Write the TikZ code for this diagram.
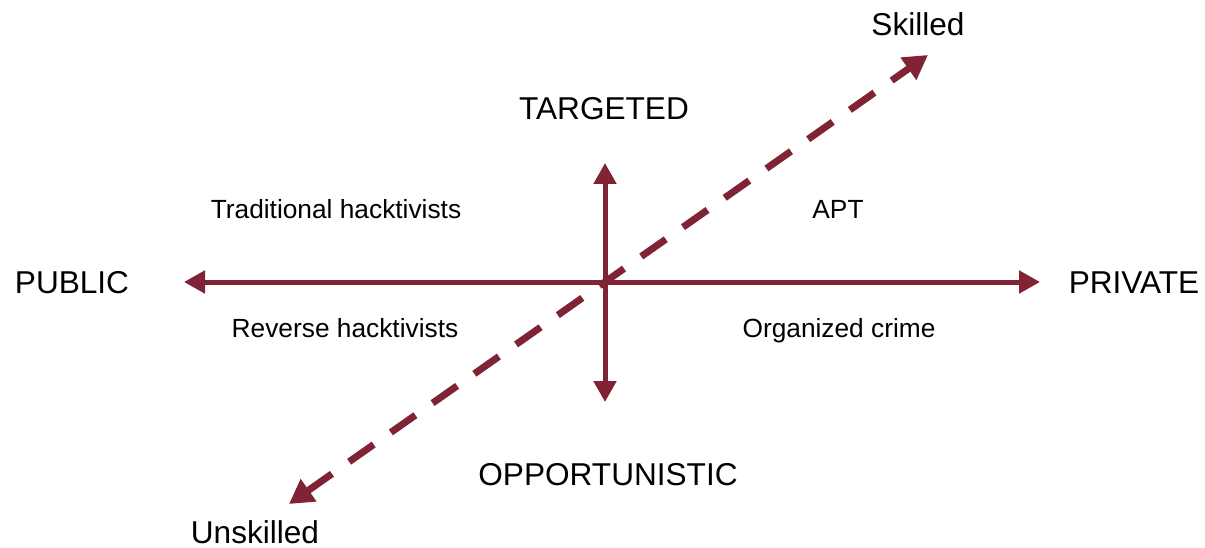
\documentclass[tikz,border=0pt]{standalone}
\usepackage{fontspec}
\setmainfont{Liberation Sans}
\usetikzlibrary{arrows.meta}
\definecolor{maroon}{RGB}{128,35,52}
\begin{document}
\begin{tikzpicture}[x=1pt,y=-1pt,
  axis/.style={draw=maroon,line width=5pt,{Triangle[length=21pt,width=22pt]}-{Triangle[length=21pt,width=22pt]}},
  skill/.style={draw=maroon,line width=7pt,dash pattern=on 30pt off 21pt,{Triangle[length=24pt,width=26pt]}-{Triangle[length=24pt,width=26pt]}},
  big/.style={anchor=base,inner sep=0pt,font=\fontsize{31.6}{36}\selectfont},
  small/.style={anchor=base,inner sep=0pt,font=\fontsize{26.3}{30}\selectfont}]
\useasboundingbox (0,0) rectangle (1205,548);
% axis end points
\coordinate (west) at (184,282);
\coordinate (east) at (1040,282);
\coordinate (north) at (605,163);
\coordinate (south) at (605,402);
\coordinate (low) at (289,504);
\coordinate (high) at (928,55);
% axes
\draw[axis] (west) -- (east);
\draw[axis] (north) -- (south);
\draw[skill] (low) -- (high);
% axis labels
\node[big] (skilled) at (918,36) {Skilled};
\node[big] (targeted) at (604,120) {TARGETED};
\node[big] (public) at (72,293) {PUBLIC};
\node[big] (private) at (1134,293) {PRIVATE};
\node[big] (opport) at (608,485) {OPPORTUNISTIC};
\node[big] (unskilled) at (255,543) {Unskilled};
% quadrant labels
\node[small] (trad) at (336,219) {Traditional hacktivists};
\node[small] (apt) at (838,219) {APT};
\node[small] (rev) at (345,337) {Reverse hacktivists};
\node[small] (crime) at (839,337) {Organized crime};
\end{tikzpicture}
\end{document}
